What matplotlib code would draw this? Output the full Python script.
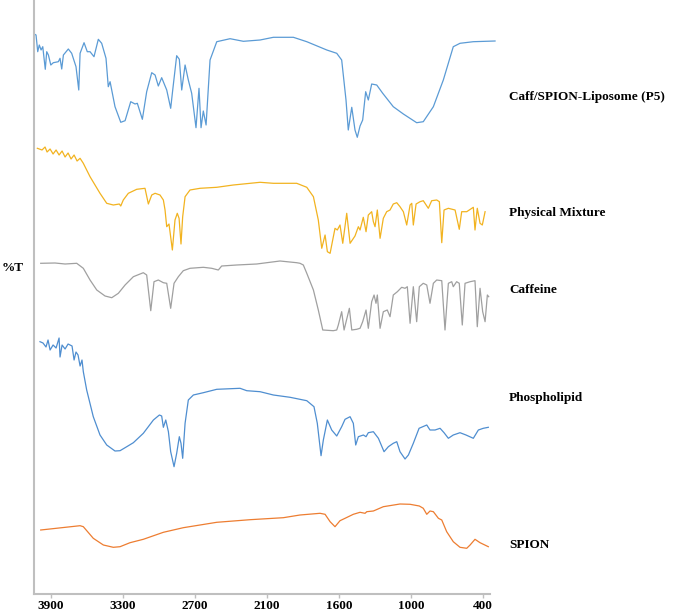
import numpy as np
import matplotlib.pyplot as plt

# FTIR spectra (wavenumber in cm-1, stacked %T values)
liposome_wn = [4036, 4025, 4011, 3998, 3983, 3969, 3948, 3936, 3922, 3902, 3881, 3839, 3825, 3811, 3797,
               3756, 3728, 3692, 3669, 3658, 3625, 3598, 3575, 3542, 3506, 3478, 3442, 3423, 3408, 3367,
               3319, 3283, 3236, 3200, 3181, 3139, 3103, 3061, 3033, 3006, 2978, 2936, 2903, 2886, 2853,
               2831, 2811, 2783, 2756, 2728, 2692, 2667, 2650, 2631, 2608, 2575, 2519, 2408, 2297, 2158,
               2056, 1917, 1824, 1685, 1616, 1578, 1542, 1523, 1494, 1467, 1448, 1425, 1403, 1378, 1356,
               1328, 1286, 1236, 1148, 1064, 953, 898, 814, 731, 648, 592, 481, 300]
liposome_t = [562.7, 562, 545.3, 552, 547, 550.3, 527.7, 545.3, 542, 532, 534.3, 535.3, 538.7, 528, 542,
              548, 543.7, 530.3, 507, 543.7, 554.3, 545.3, 545.3, 540.3, 557.7, 553.7, 538.7, 510.3, 515.3, 490.3,
              474.7, 476.3, 495.3, 493, 493.7, 477.7, 505.3, 524.3, 522, 511, 519.3, 507, 488.7, 507, 541.3,
              537.7, 507, 532, 517, 503.7, 469.3, 508.7, 469.3, 486, 472, 537, 555.3, 558.3, 555.7, 557,
              559.7, 559.7, 555.3, 547, 543.7, 537, 497, 467, 489.7, 467, 459.7, 471, 477, 505.3, 497,
              513, 512, 503.7, 490.3, 483, 474.3, 475.3, 490.3, 517, 550.3, 553.7, 555.3, 556]

mixture_wn = [4014, 3975, 3950, 3933, 3908, 3883, 3858, 3833, 3808, 3783, 3758, 3733, 3708, 3683, 3658,
              3631, 3575, 3492, 3436, 3381, 3331, 3319, 3298, 3256, 3186, 3117, 3089, 3061, 3033, 2992,
              2964, 2950, 2936, 2917, 2889, 2867, 2848, 2833, 2817, 2803, 2783, 2742, 2658, 2519, 2381,
              2158, 2056, 1894, 1824, 1778, 1744, 1720, 1697, 1681, 1662, 1644, 1628, 1612, 1592, 1569,
              1536, 1508, 1467, 1439, 1425, 1398, 1375, 1356, 1328, 1314, 1300, 1281, 1258, 1231, 1203,
              1175, 1148, 1119, 1092, 1064, 1036, 1008, 994, 981, 958, 925, 898, 856, 828, 786,
              764, 744, 725, 689, 633, 598, 578, 536, 481, 467, 448, 425, 406, 383]
mixture_t = [448.7, 447, 450, 445, 448, 443, 447, 442, 446, 440, 444, 438, 442, 436, 438.7,
             433.7, 420.3, 403.7, 393.7, 392, 393, 391, 397, 403.7, 407.7, 408.7, 393, 402, 403.7, 402,
             397, 387, 370.3, 373, 347, 377, 383.7, 378.7, 353, 380.3, 400.3, 407, 408.7, 409.7, 412,
             414.7, 413.7, 413.7, 409.7, 400.3, 377, 348.7, 362, 345.3, 343.7, 357, 368.7, 367, 372, 353.7,
             383.7, 353.7, 361, 370.3, 367, 379.7, 365.3, 382, 385.3, 375.3, 370.3, 387, 358.7, 378.7, 385.3,
             387, 393, 394.3, 390.3, 385.3, 372, 392, 393.7, 372, 393, 395.3, 396.3, 388.7, 396.3, 397,
             395.3, 354.3, 387, 388.7, 387, 367.7, 385.3, 385.3, 389.7, 367, 388.7, 373.7, 372, 385.3]

caffeine_wn = [3986, 3867, 3783, 3686, 3631, 3575, 3519, 3450, 3394, 3339, 3283, 3214, 3131, 3103, 3069,
               3042, 3006, 2964, 2936, 2903, 2875, 2839, 2798, 2742, 2631, 2561, 2506, 2478, 2353, 2186,
               2010, 1894, 1871, 1848, 1824, 1778, 1744, 1713, 1640, 1616, 1605, 1578, 1558, 1514, 1494,
               1453, 1425, 1403, 1375, 1356, 1328, 1308, 1292, 1281, 1258, 1231, 1198, 1175, 1148, 1114,
               1078, 1050, 1031, 1008, 981, 953, 931, 898, 869, 842, 814, 786, 744, 717, 689,
               661, 648, 620, 598, 573, 550, 508, 467, 448, 425, 403, 383, 364, 353]
caffeine_t = [333.7, 334, 333, 333.7, 328.7, 317, 307, 301, 299.3, 303.7, 312, 320.3, 324.3, 322, 286.3,
              315.3, 317, 314.3, 313.7, 288.7, 313.7, 320.3, 326.3, 328.7, 329.7, 328.7, 327, 331, 332, 333,
              336, 334.3, 333.7, 332, 323.7, 307, 287, 267, 266.3, 267, 272, 285.3, 267, 288.7, 267,
              267.7, 268.7, 275.3, 287, 268.7, 295.3, 302, 293.7, 302, 268.7, 285.3, 287, 280.3, 302, 305.3,
              309.7, 308.7, 310.3, 273.7, 310.3, 275.3, 310.3, 313.7, 312, 293.7, 313.7, 317, 316.3, 267, 313.7,
              315.3, 310.3, 315.3, 313.7, 272, 313.7, 315.3, 316.3, 270.3, 308.7, 285.3, 275.3, 302, 300.3]

phospholipid_wn = [3992, 3967, 3942, 3925, 3908, 3883, 3858, 3833, 3825, 3808, 3783, 3758, 3725, 3708, 3692,
                   3675, 3658, 3642, 3631, 3603, 3548, 3492, 3436, 3367, 3325, 3269, 3214, 3131, 3047, 2997,
                   2978, 2964, 2944, 2922, 2903, 2875, 2853, 2831, 2817, 2803, 2783, 2756, 2714, 2631, 2519,
                   2325, 2269, 2158, 2056, 1940, 1824, 1774, 1751, 1725, 1709, 1681, 1651, 1616, 1578, 1550,
                   1508, 1481, 1461, 1439, 1397, 1375, 1356, 1314, 1272, 1225, 1189, 1148, 1119, 1092, 1050,
                   1022, 981, 933, 869, 842, 800, 758, 725, 689, 648, 592, 542, 481, 439, 398, 356]
phospholipid_t = [255.3, 254, 250, 257, 247, 252, 249, 259, 240, 252, 248, 253, 251, 237, 245,
                  242, 231, 237, 225.3, 207, 180.3, 162, 152, 146, 146.3, 150.3, 154.3, 163.7, 177, 182,
                  181, 169.7, 177, 165.3, 145.3, 130.3, 143.7, 160.3, 153.7, 138.7, 173.7, 197, 202, 204.3, 207.7,
                  208.7, 206.3, 205.3, 202, 199.7, 196.3, 190.3, 173.7, 141.3, 157, 177, 167, 161, 170.3, 177.7,
                  180.3, 173.7, 152, 160.3, 162, 160.3, 164.3, 165.3, 158.7, 145.3, 150.3, 153.7, 155.3, 145.3, 138,
                  142, 153.7, 168.7, 172, 167, 167, 168.7, 164.3, 158.7, 162, 164.3, 162, 158.7, 167, 168.7, 169.7]

spion_wn = [3986, 3658, 3631, 3548, 3464, 3381, 3325, 3242, 3131, 2964, 2798, 2519, 2242, 1987, 1871,
            1732, 1697, 1662, 1628, 1592, 1550, 1481, 1425, 1383, 1369, 1314, 1231, 1092, 1008, 931,
            898, 869, 842, 814, 772, 744, 703, 648, 592, 536, 508, 467, 425, 356]
spion_t = [67, 71.3, 70.3, 58.7, 52, 49.7, 50.3, 54.3, 57.7, 64.7, 69.3, 74.7, 77.3, 79.3, 82,
           83.7, 82.7, 75.3, 70.3, 76.3, 78.7, 82.7, 84.7, 83.7, 85.3, 86, 90.3, 93, 92.7, 91,
           88.7, 82.7, 86, 85.3, 78.7, 77, 65.3, 55.3, 49.7, 48.7, 52, 57.7, 54.3, 50.3]

tick_values = [3900, 3300, 2700, 2100, 1600, 1000, 400]
names = ['Caff/SPION-Liposome (P5)', 'Physical Mixture', 'Caffeine', 'Phospholipid', 'SPION']
colors = ['#5B9BD5', '#F2B320', '#A0A0A0', '#4F8ED0', '#ED7D31']

# the original axis puts the tick labels at equal spacing -> piecewise linear scale
bp_wn = np.array([-500, 400, 1600, 2100, 3900, 4600])
bp_pos = np.array([7.5, 6, 4, 3, 0, -1.1667])


def forward(w):
    return -np.interp(w, bp_wn, bp_pos)


def inverse(p):
    return np.interp(p, -bp_pos, bp_wn)


plt.rcParams['font.family'] = ['Liberation Serif', 'DejaVu Serif']

fig = plt.figure(figsize=(6.74, 6.16), dpi=100)
ax = fig.add_axes([34 / 674, 22 / 616, 456 / 674, 594 / 616])
ax.set_xscale('function', functions=(forward, inverse))

series = [(liposome_wn, liposome_t), (mixture_wn, mixture_t), (caffeine_wn, caffeine_t),
          (phospholipid_wn, phospholipid_t), (spion_wn, spion_t)]
for (wn, t), c in zip(series, colors):
    ax.plot(wn, t, color=c, lw=0.9, clip_on=False)

ax.set_xlim(4042, 342)
ax.set_ylim(3, 597)
ax.set_xticks(tick_values)
ax.set_xticklabels([str(v) for v in tick_values], fontweight='bold', fontsize=9.5)
ax.set_yticks([])
ax.tick_params(axis='x', length=3, width=1, color='#BFBFBF', pad=1.5)
ax.xaxis.set_minor_locator(plt.NullLocator())

for s in ['top', 'right']:
    ax.spines[s].set_visible(False)
for s in ['left', 'bottom']:
    ax.spines[s].set_color('#BFBFBF')
    ax.spines[s].set_linewidth(1.5)

# labels to the right of the traces
label_y = [97, 213, 290, 398, 545]
for name, y in zip(names, label_y):
    fig.text(509 / 674, 1 - y / 616, name, fontsize=9.5, fontweight='bold', va='center', ha='left')

fig.text(2 / 674, 1 - 268 / 616, '%T', fontsize=9.5, fontweight='bold', va='center', ha='left')

plt.savefig('out.png', dpi=100)
